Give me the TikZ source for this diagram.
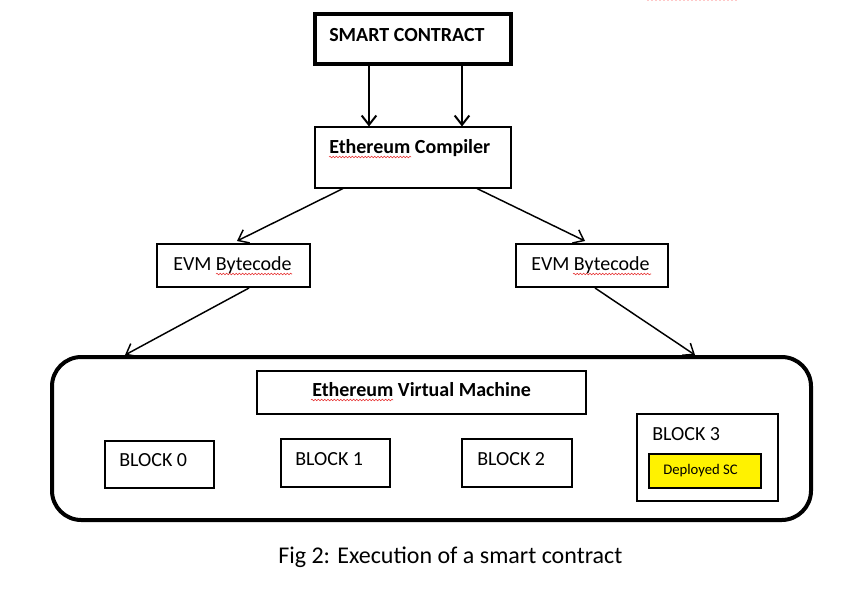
\documentclass[tikz,border=0pt]{standalone}
\usepackage{fontspec}
\setmainfont{Carlito}
\usetikzlibrary{arrows.meta,calc,fit,decorations.pathmorphing}
\definecolor{spell}{RGB}{230,40,40}
\definecolor{dotpink}{RGB}{255,200,200}
\begin{document}
\begin{tikzpicture}[x=0.75pt,y=-0.75pt,
  box/.style={draw=black,inner sep=0pt,line width=0.8pt},
  txt/.style={inner sep=0pt,anchor=base west},
  arr/.style={-{Straight Barb[length=7pt,width=11pt,line width=1.1pt]},line width=1.1pt},
  arrthick/.style={-{Straight Barb[length=7pt,width=11pt,line width=1.5pt]},line width=1.6pt},
  squig/.style={spell,line width=0.4pt,decorate,decoration={snake,amplitude=0.6pt,segment length=2.4pt}}]
\useasboundingbox (0,0) rectangle (857,593);
\fill[white] (0,0) rectangle (857,593);
% top pink dotted mark
\draw[dotpink,line width=1pt,dash pattern=on 1.5pt off 1.5pt] (647,0.6) -- (737,0.6);
% boxes
\node[box,line width=2.3pt,fit={(315,14) (511,64)}] (sc) {};
\node[box,fit={(315,127) (511,188)}] (cc) {};
\node[box,line width=1.5pt,fit={(157,244) (310,287)}] (evl) {};
\node[box,line width=1.5pt,fit={(516,244) (668,287)}] (evr) {};
\node[box,line width=3pt,rounded corners=22pt,fit={(52,357) (811,520)}] (vm) {};
\node[box,fit={(257,371) (586,414)}] (vmt) {};
\node[box,fit={(105,441) (214,488)}] (b0) {};
\node[box,fit={(281,439) (390,487)}] (b1) {};
\node[box,fit={(462,439) (572,487)}] (b2) {};
\node[box,fit={(637,414) (778,501)}] (b3) {};
\node[box,fill=yellow,fit={(649,454) (761,488)}] (dsc) {};
% texts
\node[txt,font=\fontsize{15}{18}\selectfont\bfseries] (tsc) at (329,41) {SMART CONTRACT};
\node[txt,font=\fontsize{15}{18}\selectfont\bfseries] (tcc) at (329,153) {Ethereum Compiler};
\node[txt,font=\fontsize{15}{18}\selectfont] (tevl) at (173,270) {EVM Bytecode};
\node[txt,font=\fontsize{15}{18}\selectfont] (tevr) at (531,270) {EVM Bytecode};
\node[txt,font=\fontsize{15}{18}\selectfont\bfseries] (tvm) at (312,396) {Ethereum Virtual Machine};
\node[txt,font=\fontsize{15}{18}\selectfont] (tb0) at (119,466) {BLOCK 0};
\node[txt,font=\fontsize{15}{18}\selectfont] (tb1) at (295,465) {BLOCK 1};
\node[txt,font=\fontsize{15}{18}\selectfont] (tb2) at (477,465) {BLOCK 2};
\node[txt,font=\fontsize{15}{18}\selectfont] (tb3) at (652,440) {BLOCK 3};
\node[txt,font=\fontsize{11}{13}\selectfont] (tdsc) at (663,474) {Deployed SC};
\node[txt,font=\fontsize{18}{21}\selectfont] (cap) at (278,563) {Fig 2: Execution of a smart contract};
% spell-check squiggles
\draw[squig] (329,157) -- (411,157);
\draw[squig] (216,274) -- (292,274);
\draw[squig] (573,274) -- (651,274);
\draw[squig] (311,400) -- (393,400);
% connectors
\draw[arrthick] ($(sc.south)+(-44,0)$) -- ($(cc.north)+(-44,0)$);
\draw[arrthick] ($(sc.south)+(49,0)$) -- ($(cc.north)+(49,0)$);
\draw[arr] ($(cc.south)+(-70,0)$) -- ($(evl.north)+(3.5,-2)$);
\draw[arr] ($(cc.south)+(64,0)$) -- ($(evr.north)+(-7,-2)$);
\draw[arr] ($(evl.south)+(15.5,0)$) -- ($(vm.north)+(-306.5,0)$);
\draw[arr] ($(evr.south)+(3,0)$) -- ($(vm.north)+(263.5,0)$);
\end{tikzpicture}
\end{document}
